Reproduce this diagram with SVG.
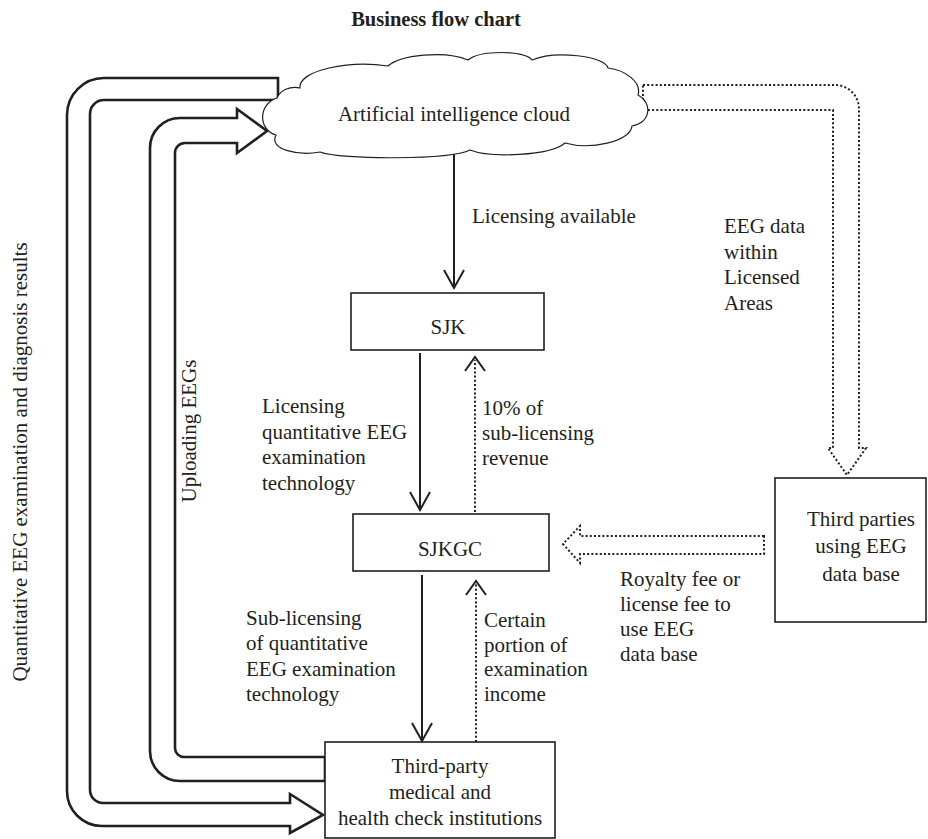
<svg xmlns="http://www.w3.org/2000/svg" width="928" height="839" viewBox="0 0 928 839">
<style>
text{font-family:"Liberation Serif","Times New Roman",serif;font-size:21px;fill:#231f20}
.title{font-weight:bold;font-size:20.5px}
.blk{fill:#fff;stroke:#231f20;stroke-width:2.6;stroke-linejoin:miter}
.dblk{fill:none;stroke:#231f20;stroke-width:2;stroke-dasharray:2 2.2}
.ln{fill:none;stroke:#231f20;stroke-width:2}
.dot{fill:none;stroke:#231f20;stroke-width:2;stroke-dasharray:2 2.2}
.box{fill:#fff;stroke:#231f20;stroke-width:1.6}
.cloud{fill:#fff;stroke:#231f20;stroke-width:1.2}
</style>
<rect width="928" height="839" fill="#fff"/>
<text class="title" x="436" y="26" text-anchor="middle">Business flow chart</text>

<g id="connectors">
  <!-- Quantitative results block arrow -->
  <path class="blk" d="M278,78 H104 A37,37 0 0 0 67,115 V791 A35,35 0 0 0 102,826 H290 V833 L323,815 L290,794 V803 H103 A13,13 0 0 1 90,790 V114 A14,14 0 0 1 104,100 H278 Z"/>
  <!-- Uploading EEGs block arrow -->
  <path class="blk" d="M325,781 H180 A30,30 0 0 1 150,751 V148 A30,30 0 0 1 180,118 H237 V109 L267,131 L237,153 V143 H185 A10,10 0 0 0 175,153 V748 A9,9 0 0 0 184,757 H325 Z"/>
  <!-- EEG data dotted block arrow -->
  <path class="dblk" d="M643,85 H835 A24,24 0 0 1 859,109 V448 H866 L847,475 L828,448 H833 V110 H643 Z"/>
  <!-- Royalty dotted block arrow -->
  <path class="dblk" d="M764,536 H580 V526 L563,544 L580,563 V554 H764 Z"/>
  <!-- Licensing available -->
  <line class="ln" x1="454" y1="145" x2="454" y2="287"/>
  <polyline class="ln" points="444,270 454,288 464,270"/>
  <!-- SJK to SJKGC -->
  <line class="ln" x1="420" y1="353" x2="420" y2="509"/>
  <polyline class="ln" points="410,492 420,510 430,492"/>
  <!-- SJKGC to SJK 10% -->
  <line class="dot" x1="475" y1="512" x2="475" y2="360"/>
  <polyline class="ln" points="465,371 475,357 485,371"/>
  <!-- SJKGC to institutions -->
  <line class="ln" x1="422" y1="575" x2="422" y2="740"/>
  <polyline class="ln" points="412,723 422,741 432,723"/>
  <!-- institutions to SJKGC -->
  <line class="dot" x1="476" y1="742" x2="476" y2="584"/>
  <polyline class="ln" points="466,595 476,581 486,595"/>
</g>

<g id="cloud">
  <path class="cloud" d="M300,88 C298,70 350,60 388,66 C400,55 445,50 468,60 C480,50 525,50 532,60 C555,50 605,56 608,68 C625,70 642,82 638,95 C652,102 652,122 632,126 C630,142 590,150 565,143 C550,156 490,158 470,150 C450,160 340,160 320,152 C300,156 268,150 276,135 C258,130 258,104 277,98 C280,90 290,86 300,88 Z"/>
  <text x="454" y="121" text-anchor="middle">Artificial intelligence cloud</text>
</g>

<g id="sjk">
  <rect class="box" x="351" y="293" width="193" height="57"/>
  <text x="448" y="334" text-anchor="middle">SJK</text>
</g>

<g id="sjkgc">
  <rect class="box" x="353" y="514" width="196" height="57"/>
  <text x="450" y="556" text-anchor="middle">SJKGC</text>
</g>

<g id="third-parties">
  <rect class="box" x="775" y="478" width="151" height="144"/>
  <text x="861" y="526" text-anchor="middle">Third parties</text>
  <text x="861" y="553" text-anchor="middle">using EEG</text>
  <text x="861" y="581" text-anchor="middle">data base</text>
</g>

<g id="institutions">
  <rect class="box" x="325" y="742" width="230" height="96"/>
  <text x="440" y="773" text-anchor="middle">Third-party</text>
  <text x="440" y="799" text-anchor="middle">medical and</text>
  <text x="440" y="825" text-anchor="middle">health check institutions</text>
</g>

<g id="labels">
  <text x="472" y="223">Licensing available</text>
  <text x="724" y="233">EEG data</text>
  <text x="724" y="259">within</text>
  <text x="724" y="284">Licensed</text>
  <text x="724" y="310">Areas</text>
  <text x="262" y="413">Licensing</text>
  <text x="262" y="439">quantitative EEG</text>
  <text x="262" y="464">examination</text>
  <text x="262" y="490">technology</text>
  <text x="482" y="415">10% of</text>
  <text x="482" y="440">sub-licensing</text>
  <text x="482" y="465">revenue</text>
  <text x="246" y="625">Sub-licensing</text>
  <text x="246" y="650">of quantitative</text>
  <text x="246" y="676">EEG examination</text>
  <text x="246" y="701">technology</text>
  <text x="484" y="627">Certain</text>
  <text x="484" y="652">portion of</text>
  <text x="484" y="676">examination</text>
  <text x="484" y="701">income</text>
  <text x="620" y="586">Royalty fee or</text>
  <text x="620" y="611">license fee to</text>
  <text x="620" y="636">use EEG</text>
  <text x="620" y="661">data base</text>
  <text transform="translate(27,462) rotate(-90)" text-anchor="middle">Quantitative EEG examination and diagnosis results</text>
  <text transform="translate(196,431) rotate(-90)" text-anchor="middle">Uploading EEGs</text>
</g>
</svg>
